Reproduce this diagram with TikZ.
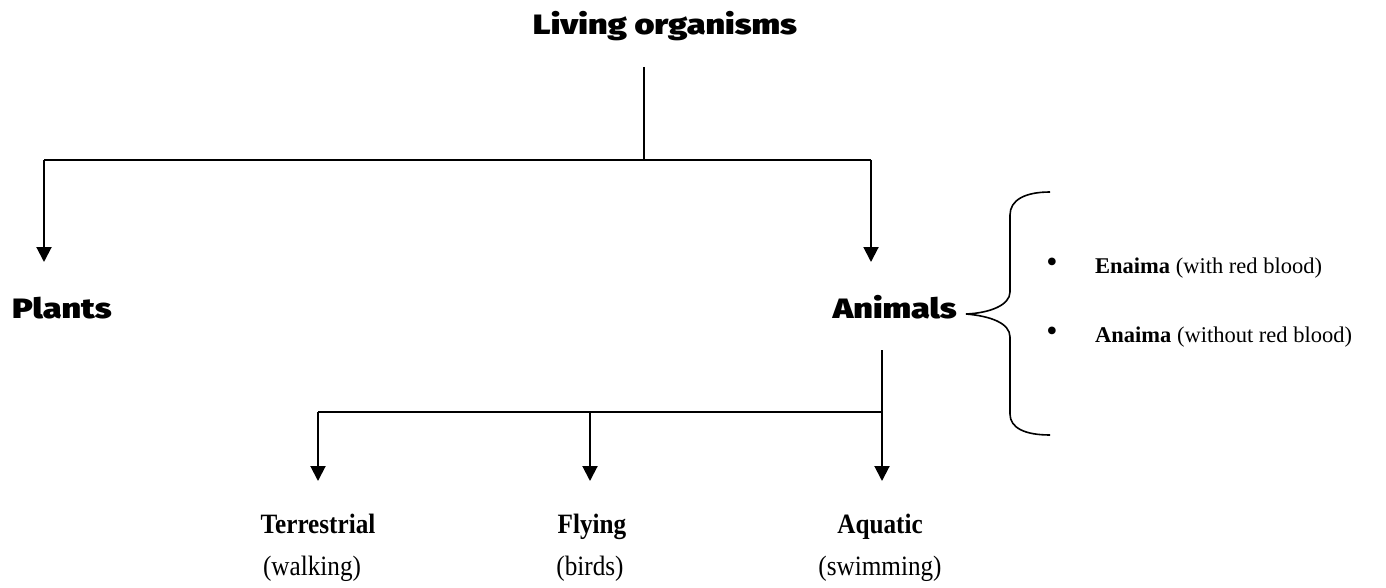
\documentclass[tikz,border=0pt]{standalone}
\usepackage{fontspec}
\setmainfont{Liberation Serif}
\newfontfamily\heavy[FakeStretch=1.22]{Fira Sans Black}
\newfontfamily\tallserif[FakeStretch=0.9]{Liberation Serif}
\usetikzlibrary{arrows.meta}
\tikzset{
  heavylabel/.style={font=\heavy\fontsize{28}{30}\selectfont, inner sep=0pt},
  kindlabel/.style={font=\tallserif\bfseries\fontsize{28}{30}\selectfont, inner sep=0pt, anchor=base},
  notelabel/.style={font=\tallserif\fontsize{28}{30}\selectfont, inner sep=0pt, anchor=base},
  bulletlabel/.style={font=\fontsize{22.5}{26}\selectfont, inner sep=0pt, anchor=base west},
  bulletmark/.style={font=\fontsize{32}{34}\selectfont, inner sep=0pt, anchor=center},
  link/.style={line width=2pt},
  arrowlink/.style={line width=2pt, -{Triangle[width=15pt,length=15pt]}},
  bracestyle/.style={line width=1.6pt}
}
\begin{document}
\begin{tikzpicture}[x=1pt,y=-1pt]
\useasboundingbox (0,0) rectangle (1386,588);
% title
\node[heavylabel, anchor=base] (title) at (665,35) {Living organisms};
\coordinate (ttop) at (644,67);
\coordinate (tjoin) at (644,160);
\coordinate (lcorner) at (44,160);
\coordinate (rcorner) at (871,160);
\coordinate (ltip) at (44,262);
\coordinate (rtip) at (871,262);
\draw[link] (ttop) -- (tjoin);
\draw[link] (lcorner) -- (rcorner);
\draw[arrowlink] (lcorner) -- (ltip);
\draw[arrowlink] (rcorner) -- (rtip);
% plants / animals
\node[heavylabel, anchor=base west] (plants) at (12,318) {Plants};
\node[heavylabel, anchor=base east] (animals) at (957,318) {Animals};
% brace
\draw[bracestyle] (1050,192) .. controls (1025,192) and (1010,200) .. (1010,215) -- (1010,292)
  .. controls (1010,305) and (990,313) .. (966,314)
  .. controls (990,316) and (1010,323) .. (1010,337) -- (1010,414)
  .. controls (1010,428) and (1025,435) .. (1050,435);
\node[bulletmark] (b1) at (1052,265) {\textbullet};
\node[bulletlabel] (enaima) at (1095,273) {\textbf{Enaima} (with red blood)};
\node[bulletmark] (b2) at (1052,334) {\textbullet};
\node[bulletlabel] (anaima) at (1095,342) {\textbf{Anaima} (without red blood)};
% lower tree
\coordinate (atop) at (882,350);
\coordinate (ajoin) at (882,412);
\coordinate (tcorner) at (318,412);
\coordinate (fjoin) at (590,412);
\coordinate (ttip) at (318,481);
\coordinate (ftip) at (590,481);
\coordinate (qtip) at (882,481);
\draw[link] (atop) -- (ajoin);
\draw[link] (tcorner) -- (ajoin);
\draw[arrowlink] (tcorner) -- (ttip);
\draw[arrowlink] (fjoin) -- (ftip);
\draw[arrowlink] (ajoin) -- (qtip);
\node[kindlabel] (terr) at (318,533) {Terrestrial};
\node[notelabel] (walk) at (312,575) {(walking)};
\node[kindlabel] (fly) at (592,533) {Flying};
\node[notelabel] (birds) at (590,575) {(birds)};
\node[kindlabel] (aqua) at (880,533) {Aquatic};
\node[notelabel] (swim) at (880,575) {(swimming)};
\end{tikzpicture}
\end{document}
